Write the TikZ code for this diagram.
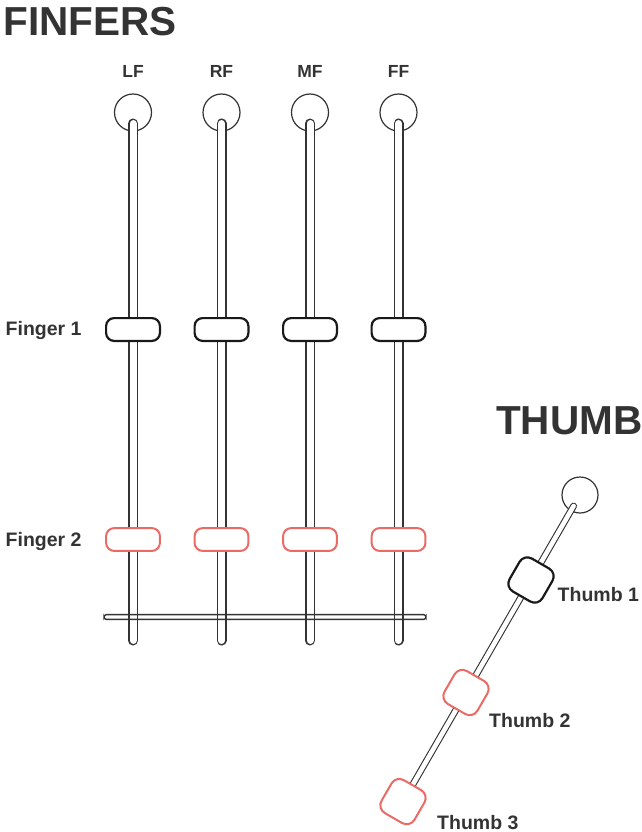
\documentclass[tikz,border=0pt]{standalone}
\usepackage{fontspec}
\setmainfont{Liberation Sans}
\usetikzlibrary{calc}
\definecolor{inkgray}{HTML}{333333}
\definecolor{softred}{HTML}{EA6B66}
\begin{document}
\begin{tikzpicture}[x=1pt,y=-1pt,
  knob/.style={circle, draw=inkgray, line width=1.2pt, minimum size=37pt, inner sep=0pt},
  rod/.style={draw=inkgray, line width=1.5pt, double=white, double distance=7pt, line cap=round},
  thinrod/.style={draw=inkgray, line width=1.1pt, double=white, double distance=4.6pt, line cap=round},
  railbar/.style={draw=inkgray, line width=1.4pt, rounded corners=2.5pt, minimum width=322pt, minimum height=4.8pt, inner sep=0pt},
  slider/.style={fill=white, rounded corners=8pt, minimum width=53.8pt, minimum height=22.8pt, inner sep=0pt},
  darkslider/.style={slider, draw=black!90, line width=2.2pt},
  redslider/.style={slider, draw=softred, line width=2pt},
  pad/.style={fill=white, rounded corners=9pt, minimum width=38pt, minimum height=38pt, inner sep=0pt, rotate=60},
  darkpad/.style={pad, draw=black!90, line width=2.2pt},
  redpad/.style={pad, draw=softred, line width=2pt},
  heading/.style={text=inkgray, font=\fontsize{40.5}{40}\selectfont\bfseries, inner sep=0pt, anchor=base west},
  tag/.style={text=inkgray, font=\fontsize{17.5}{17}\selectfont\bfseries, inner sep=0pt, anchor=base},
  caption/.style={text=inkgray, font=\fontsize{19.5}{19}\selectfont\bfseries, inner sep=0pt, anchor=base west}]

\useasboundingbox[fill=white] (0,0) rectangle (641,832);

% titles
\node[heading] (tfin) at (3.5,36) {FINFERS};
\node[heading] (tthumb) at (496,434) {THUMB};

% finger columns: knob, rod, two sliders
\foreach \name/\x in {LF/133, RF/221.5, MF/310, FF/398.5} {
  \node[tag] (lab\name) at (\x,77.7) {\name};
  \node[knob] (k\name) at (\x,112.5) {};
  \coordinate (top\name) at (\x,123.5);
  \coordinate (bot\name) at (\x,640.5);
  \draw[rod] (top\name) -- (bot\name);
}

% cross bar over the rods
\node[railbar] (bar) at (265,617) {};

\foreach \name/\x in {LF/133, RF/221.5, MF/310, FF/398.5} {
  \node[darkslider] (fa\name) at (\x,329.5) {};
  \node[redslider] (fb\name) at (\x,539.5) {};
}

\node[caption] (lf1) at (5.5,335.5) {Finger 1};
\node[caption] (lf2) at (5.5,546.5) {Finger 2};

% thumb: knob, slanted rod, three pads
\node[knob, minimum size=36pt] (kT) at (580,495) {};
\coordinate (ttop) at (573.6,506);
\coordinate (tbot) at (401,805);
\draw[thinrod] (ttop) -- (tbot);

\node[darkpad] (th1) at (531,580) {};
\node[redpad] (th2) at (466,692.5) {};
\node[redpad] (th3) at (403,801.6) {};

\node[caption] (lt1) at (557.5,601.5) {Thumb 1};
\node[caption] (lt2) at (489,727) {Thumb 2};
\node[caption] (lt3) at (437,829) {Thumb 3};
\end{tikzpicture}
\end{document}
